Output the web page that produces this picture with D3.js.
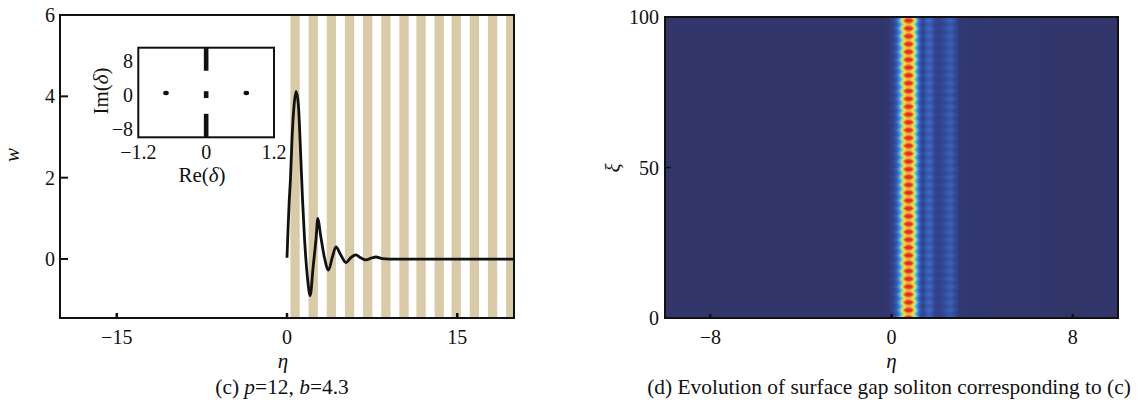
<!DOCTYPE html>
<html>
<head>
<meta charset="utf-8">
<script src="https://cdn.jsdelivr.net/npm/d3@7"></script>
<style>
  body { margin: 0; background: #fff; }
  svg text { font-family: "Liberation Serif", "DejaVu Serif", serif; fill: #111; }
</style>
</head>
<body>
<div id="chart"></div>
<script>
// ---- panel (c): soliton profile ----
const etaW = [0, 0.1, 0.2, 0.3, 0.45, 0.6, 0.8, 1.0, 1.2, 1.37, 1.55, 1.8, 2.04, 2.3, 2.55, 2.72, 2.95, 3.28, 3.66, 4.0, 4.31, 4.7, 5.2, 5.6, 6.07, 6.5, 6.96, 7.4, 7.84, 8.4, 9, 20];
const wVals = [0.03, 0.8, 1.45, 1.94, 3.0, 3.7, 4.12, 3.8, 2.6, 1.45, 0.47, -0.45, -0.9, -0.2, 0.47, 1.0, 0.6, 0.06, -0.27, 0.05, 0.3, 0.12, -0.09, 0.03, 0.1, 0.03, -0.02, 0.02, 0.05, 0.01, 0, 0];
// waveguide (lattice) stripes, left edges in eta
const guideStarts = [0.3, 1.9, 3.5, 5.1, 6.7, 8.3, 9.9, 11.4, 13.0, 14.5, 16.1, 17.7, 19.3];
const guideWidth = 0.82;
const xTicksC = [-15, 0, 15];
const yTicksC = [0, 2, 4, 6];

// inset: linear spectrum
const insetDots = [{re: -0.71, im: 0.4}, {re: 0.71, im: 0.4}];
const insetBands = [[5.6, 11], [-0.8, 0.8], [-10, -4.5]];
const insetXTicks = [-1.2, 0, 1.2];
const insetYTicks = [8, 0, -8];

// ---- panel (d): evolution |w| ----
const profEta = [-10, -0.3, -0.1, 0.0, 0.1, 0.2, 0.3, 0.4, 0.5, 0.6, 0.7, 0.8, 0.9, 1.0, 1.1, 1.2, 1.3, 1.4, 1.5, 1.6, 1.7, 1.8, 1.9, 2.0, 2.1, 2.3, 2.5, 2.6, 2.7, 2.85, 3.0, 3.5, 4.0, 4.2, 4.4, 4.8, 10];
const profVal = [0, 0, 0.03, 0.07, 0.12, 0.2, 0.32, 0.5, 0.72, 0.9, 1.0, 1.0, 0.92, 0.72, 0.5, 0.3, 0.16, 0.12, 0.18, 0.24, 0.25, 0.2, 0.12, 0.09, 0.08, 0.14, 0.2, 0.22, 0.2, 0.12, 0.03, 0.01, 0.012, 0.025, 0.012, 0.004, 0];
const breathPeriod = 2.6;          // in xi, one red blob to the next
const breathCycle = [1.0, 0.92, 0.8, 0.74, 0.8, 0.92];
const xTicksD = [-8, 0, 8];
const yTicksD = [0, 50, 100];

const W = 1138, H = 405;
const FS = 20;
const svg = d3.select("#chart").append("svg").attr("width", W).attr("height", H);
svg.append("rect").attr("width", W).attr("height", H).attr("fill", "#fff");

// ================= panel (c) =================
const xL = d3.scaleLinear().domain([-20, 20]).range([60, 514]);
const yL = d3.scaleLinear().domain([-1.45, 6]).range([318, 15]);

svg.append("g").selectAll("rect")
  .data(guideStarts)
  .enter().append("rect")
  .attr("x", d => xL(d))
  .attr("y", yL(6))
  .attr("width", d => xL(Math.min(d + guideWidth, 20)) - xL(d))
  .attr("height", yL(-1.45) - yL(6))
  .attr("fill", "#d9caa8");

const line = d3.line().x(d => xL(d[0])).y(d => yL(d[1])).curve(d3.curveMonotoneX);
svg.append("path")
  .datum(etaW.map((e, i) => [e, wVals[i]]))
  .attr("d", line)
  .attr("fill", "none")
  .attr("stroke", "#111")
  .attr("stroke-width", 2.8)
  .attr("stroke-linejoin", "round");

// frame
svg.append("rect")
  .attr("x", xL(-20)).attr("y", yL(6))
  .attr("width", xL(20) - xL(-20)).attr("height", yL(-1.45) - yL(6))
  .attr("fill", "none").attr("stroke", "#111").attr("stroke-width", 2);

// ticks (inward)
const gxc = svg.append("g");
gxc.selectAll("line").data(xTicksC).enter().append("line")
  .attr("x1", d => xL(d)).attr("x2", d => xL(d))
  .attr("y1", yL(-1.45)).attr("y2", yL(-1.45) - 5)
  .attr("stroke", "#111").attr("stroke-width", 2.5);
gxc.selectAll("text").data(xTicksC).enter().append("text")
  .attr("x", d => xL(d)).attr("y", 344)
  .attr("text-anchor", "middle").attr("font-size", FS)
  .text(d => d3.format("d")(d));

const gyc = svg.append("g");
gyc.selectAll("line").data(yTicksC).enter().append("line")
  .attr("x1", xL(-20)).attr("x2", xL(-20) + 8)
  .attr("y1", d => yL(d)).attr("y2", d => yL(d))
  .attr("stroke", "#111").attr("stroke-width", 2);
gyc.selectAll("text").data(yTicksC).enter().append("text")
  .attr("x", 55).attr("y", d => yL(d) + 7)
  .attr("text-anchor", "end").attr("font-size", FS)
  .text(d => d);

svg.append("text")
  .attr("transform", "translate(19,155) rotate(-90)")
  .attr("text-anchor", "middle").attr("font-size", 21).attr("font-style", "italic")
  .text("w");
svg.append("text")
  .attr("x", xL(0) - 4).attr("y", 368)
  .attr("text-anchor", "middle").attr("font-size", 21).attr("font-style", "italic")
  .text("η");

const capC = svg.append("text").attr("x", 282).attr("y", 394)
  .attr("text-anchor", "middle").attr("font-size", 21.4);
capC.append("tspan").text("(c) ");
capC.append("tspan").attr("font-style", "italic").text("p");
capC.append("tspan").text("=12, ");
capC.append("tspan").attr("font-style", "italic").text("b");
capC.append("tspan").text("=4.3");

// ---- inset ----
const xI = d3.scaleLinear().domain([-1.2, 1.2]).range([138.3, 274]);
const yI = d3.scaleLinear().domain([-10, 11]).range([137.3, 47.7]);

svg.append("rect")
  .attr("x", xI(-1.2)).attr("y", yI(11))
  .attr("width", xI(1.2) - xI(-1.2)).attr("height", yI(-10) - yI(11))
  .attr("fill", "#fff").attr("stroke", "#111").attr("stroke-width", 2);

svg.append("g").selectAll("rect").data(insetBands).enter().append("rect")
  .attr("x", xI(0) - 2.3).attr("width", 4.6)
  .attr("y", d => yI(d[1])).attr("height", d => yI(d[0]) - yI(d[1]))
  .attr("fill", "#111");
svg.append("g").selectAll("ellipse").data(insetDots).enter().append("ellipse")
  .attr("cx", d => xI(d.re)).attr("cy", d => yI(d.im)).attr("rx", 2.8).attr("ry", 2.2)
  .attr("fill", "#111");

svg.append("g").selectAll("text").data(insetXTicks).enter().append("text")
  .attr("x", d => xI(d)).attr("y", 159)
  .attr("text-anchor", "middle").attr("font-size", FS)
  .text(d => d3.format("")(d).replace("-", "−"));
svg.append("g").selectAll("text").data(insetYTicks).enter().append("text")
  .attr("x", 133).attr("y", d => yI(d) + 7)
  .attr("text-anchor", "end").attr("font-size", FS)
  .text(d => d3.format("")(d).replace("-", "−"));

const reLab = svg.append("text").attr("x", 202).attr("y", 182)
  .attr("text-anchor", "middle").attr("font-size", 21);
reLab.append("tspan").text("Re(");
reLab.append("tspan").attr("font-style", "italic").text("δ");
reLab.append("tspan").text(")");
const imLab = svg.append("text").attr("transform", "translate(108,91) rotate(-90)")
  .attr("text-anchor", "middle").attr("font-size", 21);
imLab.append("tspan").text("Im(");
imLab.append("tspan").attr("font-style", "italic").text("δ");
imLab.append("tspan").text(")");

// ================= panel (d) =================
const xR = d3.scaleLinear().domain([-10, 10]).range([665, 1118]);
const yR = d3.scaleLinear().domain([0, 100]).range([318, 17]);

const profile = d3.scaleLinear().domain(profEta).range(profVal).clamp(true);
const breath = d3.scaleLinear()
  .domain(breathCycle.map((_, i) => i / breathCycle.length).concat([1]))
  .range(breathCycle.concat([breathCycle[0]]));
const jet = d3.scaleLinear()
  .domain([0, 0.12, 0.25, 0.38, 0.48, 0.58, 0.68, 0.8, 0.9, 1.0])
  .range(["#31356a", "#33489a", "#3b6cc4", "#48a8e0", "#6fd0d8", "#c6e26a", "#f3dc44", "#f08c30", "#e4402a", "#d52a26"])
  .clamp(true);
const lut = d3.range(256).map(i => d3.rgb(jet(i / 255)));

const cw = Math.round(xR.range()[1] - xR.range()[0]);
const ch = Math.round(yR.range()[0] - yR.range()[1]);
const canvas = document.createElement("canvas");
canvas.width = cw; canvas.height = ch;
const ctx = canvas.getContext("2d");
const img = ctx.createImageData(cw, ch);
for (let py = 0; py < ch; py++) {
  const xi = yR.invert(yR.range()[1] + py + 0.5);
  const b = breath((xi / breathPeriod) % 1);
  for (let px = 0; px < cw; px++) {
    const eta = xR.invert(xR.range()[0] + px + 0.5);
    const v = Math.max(0, Math.min(1, profile(eta) * b));
    const c = lut[Math.round(v * 255)];
    const k = (py * cw + px) * 4;
    img.data[k] = c.r; img.data[k + 1] = c.g; img.data[k + 2] = c.b; img.data[k + 3] = 255;
  }
}
ctx.putImageData(img, 0, 0);
svg.append("image")
  .attr("x", xR.range()[0]).attr("y", yR.range()[1])
  .attr("width", cw).attr("height", ch)
  .attr("preserveAspectRatio", "none")
  .attr("href", canvas.toDataURL());

svg.append("rect")
  .attr("x", xR(-10)).attr("y", yR(100))
  .attr("width", xR(10) - xR(-10)).attr("height", yR(0) - yR(100))
  .attr("fill", "none").attr("stroke", "#111").attr("stroke-width", 2);

const gxd = svg.append("g");
gxd.selectAll("line").data(xTicksD).enter().append("line")
  .attr("x1", d => xR(d)).attr("x2", d => xR(d))
  .attr("y1", yR(0)).attr("y2", yR(0) - 4)
  .attr("stroke", "#111").attr("stroke-width", 2.5);
gxd.selectAll("text").data(xTicksD).enter().append("text")
  .attr("x", d => xR(d)).attr("y", 344)
  .attr("text-anchor", "middle").attr("font-size", FS)
  .text(d => d3.format("d")(d));

const gyd = svg.append("g");
gyd.selectAll("line").data(yTicksD).enter().append("line")
  .attr("x1", xR(-10)).attr("x2", xR(-10) + 6)
  .attr("y1", d => yR(d)).attr("y2", d => yR(d))
  .attr("stroke", "#111").attr("stroke-width", 1.5);
gyd.selectAll("text").data(yTicksD).enter().append("text")
  .attr("x", 659).attr("y", d => yR(d) + 7)
  .attr("text-anchor", "end").attr("font-size", FS)
  .text(d => d);

svg.append("text")
  .attr("transform", "translate(620,168) rotate(-90)")
  .attr("text-anchor", "middle").attr("font-size", 21).attr("font-style", "italic")
  .text("ξ");
svg.append("text")
  .attr("x", xR(0)).attr("y", 368)
  .attr("text-anchor", "middle").attr("font-size", 21).attr("font-style", "italic")
  .text("η");
svg.append("text")
  .attr("x", 889).attr("y", 394)
  .attr("text-anchor", "middle").attr("font-size", 21.4)
  .text("(d) Evolution of surface gap soliton corresponding to (c)");
</script>
</body>
</html>
